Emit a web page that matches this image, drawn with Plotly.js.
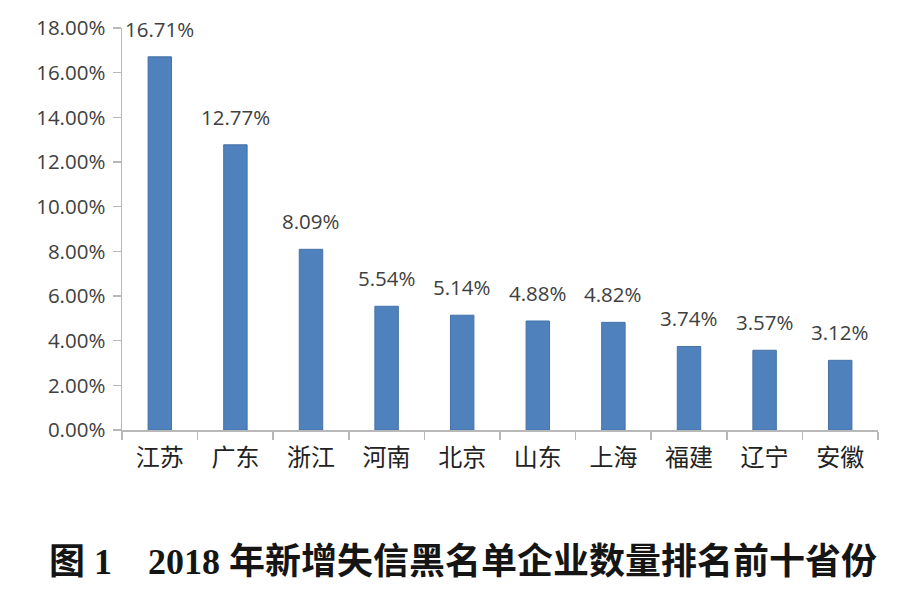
<!DOCTYPE html>
<html>
<head>
<meta charset="utf-8">
<script src="https://cdn.plot.ly/plotly-3.0.1.min.js"></script>
<style>html,body{margin:0;padding:0;background:#fff;}#chart{width:914px;height:598px;}</style>
</head>
<body>
<div id="chart"></div>
<script>
var provinces = ["江苏", "广东", "浙江", "河南", "北京", "山东", "上海", "福建", "辽宁", "安徽"];
var shares = [0.1671, 0.1277, 0.0809, 0.0554, 0.0514, 0.0488, 0.0482, 0.0374, 0.0357, 0.0312];
var shareLabels = ["16.71%", "12.77%", "8.09%", "5.54%", "5.14%", "4.88%", "4.82%", "3.74%", "3.57%", "3.12%"];
var figureTitle = "图 1\u30002018 年新增失信黑名单企业数量排名前十省份";

var textColor = "#404040";
var numFont = "'Open Sans', 'Noto Sans CJK SC', sans-serif";

var annotations = provinces.map(function (p, i) {
  return {
    x: p, y: shares[i], xref: "x", yref: "y",
    text: shareLabels[i], showarrow: false,
    yanchor: "middle", yshift: 28,
    font: {family: numFont, size: 20.5, color: textColor}
  };
});
annotations.push({
  x: 0.5, y: 0, xref: "paper", yref: "paper", yanchor: "middle", xanchor: "center",
  xshift: -37, yshift: -132,
  text: "<b>" + figureTitle + "</b>", showarrow: false,
  font: {family: "'Liberation Serif', 'Noto Sans CJK SC', serif", size: 36, color: "#151515"}
});

var trace = {
  type: "bar",
  x: provinces,
  y: shares,
  marker: {color: "#4f81bd", line: {color: "#4572a7", width: 1}},
  hoverinfo: "none"
};

var layout = {
  width: 914, height: 598,
  margin: {l: 122, r: 36, t: 28, b: 168},
  paper_bgcolor: "#fff", plot_bgcolor: "#fff",
  bargap: 0.69,
  showlegend: false,
  xaxis: {
    type: "category",
    showline: true, linecolor: "#b8b8b8", linewidth: 1.5,
    ticks: "outside", tickson: "boundaries", ticklen: 8, tickcolor: "#b8b8b8", tickwidth: 1.5,
    showgrid: false, zeroline: false,
    ticklabelstandoff: 6,
    tickfont: {family: "'Noto Sans CJK SC', sans-serif", size: 24, color: "#222"}
  },
  yaxis: {
    range: [0, 0.18], dtick: 0.02, tick0: 0, tickformat: ".2%",
    showline: true, linecolor: "#b8b8b8", linewidth: 1.5,
    ticks: "outside", ticklen: 8, tickcolor: "#b8b8b8", tickwidth: 1.5,
    showgrid: false, zeroline: false,
    ticklabelstandoff: 3,
    tickfont: {family: numFont, size: 20.5, color: textColor}
  },
  annotations: annotations
};

Plotly.newPlot("chart", [trace], layout, {displayModeBar: false, staticPlot: true});
</script>
</body>
</html>
